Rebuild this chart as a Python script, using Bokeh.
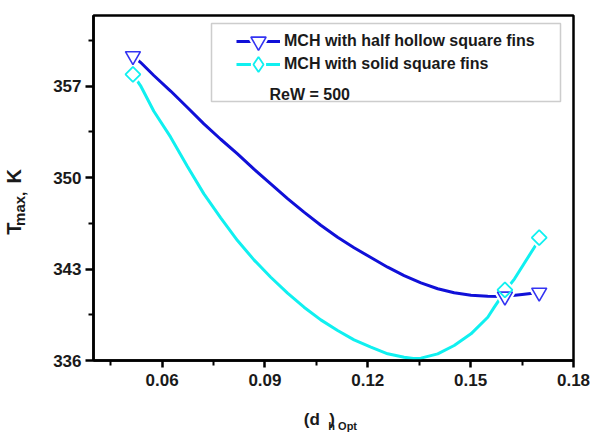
import math
from bokeh.plotting import figure
from bokeh.models import (FixedTicker, Label, Legend, LegendItem, BoxAnnotation,
                          ColumnDataSource, Range1d, LinearAxis)
from bokeh.embed import file_html
from bokeh.resources import INLINE

# ---------------- data ----------------
dh_opt = [0.0515, 0.16, 0.17]
tmax_hollow = [359.3, 340.9, 341.2]
tmax_solid = [357.9, 341.4, 345.4]

# smooth curves drawn through the points
hollow_curve_x = [0.0515, 0.0537, 0.0576, 0.0625, 0.0674, 0.0722, 0.0771, 0.0820,
                  0.0868, 0.0917, 0.0966, 0.1014, 0.1063, 0.1112, 0.1160, 0.1209,
                  0.1258, 0.1306, 0.1355, 0.1404, 0.1452, 0.1501, 0.1550, 0.16,
                  0.165, 0.17]
hollow_curve_y = [359.3, 358.82, 357.81, 356.62, 355.36, 354.11, 352.93, 351.81,
                  350.64, 349.52, 348.39, 347.35, 346.35, 345.43, 344.63, 343.88,
                  343.14, 342.50, 341.94, 341.49, 341.18, 340.99, 340.92, 340.9,
                  341.05, 341.2]
solid_curve_x = [0.0515, 0.0537, 0.0576, 0.0625, 0.0674, 0.0722, 0.0771, 0.0820,
                 0.0868, 0.0917, 0.0966, 0.1014, 0.1063, 0.1112, 0.1160, 0.1209,
                 0.1258, 0.1306, 0.1333, 0.1355, 0.1404, 0.1452, 0.1501, 0.1550,
                 0.1569, 0.1603, 0.1628, 0.1686, 0.1704]
solid_curve_y = [357.9, 357.04, 355.07, 353.09, 350.84, 348.75, 346.92, 345.18,
                 343.70, 342.37, 341.15, 340.08, 339.11, 338.30, 337.58, 337.02,
                 336.51, 336.25, 336.15, 336.18, 336.51, 337.15, 338.04, 339.31,
                 340.08, 341.4, 342.25, 344.67, 345.4]

x_ticks = [0.06, 0.09, 0.12, 0.15, 0.18]
x_tick_labels = ["0.06", "0.09", "0.12", "0.15", "0.18"]
x_minor_ticks = [0.045, 0.075, 0.105, 0.135, 0.165]
y_ticks = [336, 343, 350, 357]
y_tick_labels = ["336", "343", "350", "357"]
y_minor_ticks = [339.5, 346.5, 353.5, 360.5]

series_labels = ["MCH with half hollow square fins", "MCH with solid square fins"]
note_text = "ReW = 500"

NB = "\u00a0"
# axis titles: base text and subscript text (subscripts on their own rows)
x_title_base = "(d" + NB * 2 + ")" + NB * 6
x_title_sub = NB * 6 + "h" + NB + "Opt"
y_title_base = "T" + NB * 7 + "K" + NB * 5
y_title_sub = "max," + NB * 10

# ---------------- style ----------------
FONT = "Liberation Sans"
BLUE = "#1010D8"
BLUE_MK = "#3434F2"
CYAN = "#10F0F0"
TXT = "#1a1a1a"

p = figure(width=590, height=435, output_backend="svg", toolbar_location=None,
           x_range=Range1d(0.04, 0.18), y_range=Range1d(336, 362.4),
           min_border_left=93, min_border_right=17, min_border_top=15,
           min_border_bottom=75)
p.background_fill_color = "white"
p.border_fill_color = "white"
p.grid.visible = False
p.outline_line_color = "black"
p.outline_line_width = 2.5

for ax in (p.xaxis[0], p.yaxis[0]):
    ax.axis_line_width = 2.5
    ax.axis_line_color = "black"
    ax.major_tick_line_width = 2.5
    ax.minor_tick_line_width = 2
    ax.major_tick_in = 0
    ax.minor_tick_in = 0
    ax.major_label_text_font = FONT
    ax.major_label_text_font_style = "bold"
    ax.major_label_text_font_size = "17px"
    ax.major_label_text_color = TXT
    ax.axis_label_text_font = FONT
    ax.axis_label_text_font_style = "bold"
    ax.axis_label_text_color = TXT

p.xaxis.ticker = FixedTicker(ticks=x_ticks, minor_ticks=x_minor_ticks)
p.xaxis.major_label_overrides = dict(zip(x_ticks, x_tick_labels))
p.xaxis.major_tick_out = 7
p.xaxis.minor_tick_out = 5
p.xaxis.major_label_standoff = 6
p.xaxis.axis_label = x_title_base
p.xaxis.axis_label_text_font_size = "17px"
p.xaxis.axis_label_standoff = 21

p.yaxis.ticker = FixedTicker(ticks=y_ticks, minor_ticks=y_minor_ticks)
p.yaxis.major_label_overrides = dict(zip(y_ticks, y_tick_labels))
p.yaxis.major_tick_out = 8
p.yaxis.minor_tick_out = 5
p.yaxis.major_label_standoff = 4
p.yaxis.axis_label = y_title_base
p.yaxis.axis_label_text_font_size = "20px"
p.yaxis.axis_label_standoff = 25


def title_axis(text, size, standoff):
    ax = LinearAxis(ticker=FixedTicker(ticks=[], minor_ticks=[]),
                    axis_label=text, axis_label_standoff=standoff,
                    axis_label_text_font=FONT, axis_label_text_font_style="bold",
                    axis_label_text_font_size=size, axis_label_text_color=TXT,
                    axis_line_color=None, major_tick_line_color=None,
                    minor_tick_line_color=None, major_tick_out=0, minor_tick_out=0,
                    major_tick_in=0, minor_tick_in=0, major_label_standoff=0)
    return ax


p.add_layout(title_axis(x_title_sub, "11px", -12), "below")
p.add_layout(title_axis(y_title_sub, "15px", -27), "left")

# ---------------- curves and markers ----------------
src_h = ColumnDataSource(dict(x=dh_opt, y=tmax_hollow))
src_s = ColumnDataSource(dict(x=dh_opt, y=tmax_solid))

p.line(hollow_curve_x, hollow_curve_y, line_color=BLUE, line_width=3, line_join="round")
p.line(solid_curve_x, solid_curve_y, line_color=CYAN, line_width=3, line_join="round")

# white halos give the gap between line and marker
p.scatter("x", "y", source=src_h, marker="inverted_triangle", size=15,
          fill_color="white", line_color="white", line_width=6)
p.scatter("x", "y", source=src_s, marker="square", angle=math.pi / 4, size=10.6,
          fill_color="white", line_color="white", line_width=6)
p.scatter("x", "y", source=src_h, marker="inverted_triangle", size=15,
          fill_alpha=0, line_color=BLUE_MK, line_width=1.6)
p.scatter("x", "y", source=src_s, marker="square", angle=math.pi / 4, size=10.6,
          fill_alpha=0, line_color=CYAN, line_width=1.8)

# ---------------- legend ----------------
box = BoxAnnotation(left=118, right=467, top=337, bottom=259,
                    left_units="screen", right_units="screen",
                    top_units="screen", bottom_units="screen",
                    fill_color="white", fill_alpha=1.0,
                    line_color="#5a5a5a", line_width=1.5)
p.add_layout(box)

# legend-only renderers (hidden in the plot)
lg_h_line = p.line(dh_opt, tmax_hollow, line_color=BLUE, line_width=3, visible=False)
lg_h_halo = p.scatter(dh_opt, tmax_hollow, marker="inverted_triangle", size=15,
                      fill_color="white", line_color="white", line_width=6, visible=False)
lg_h_mk = p.scatter(dh_opt, tmax_hollow, marker="inverted_triangle", size=15,
                    fill_color="white", line_color=BLUE_MK, line_width=1.6, visible=False)
lg_s_line = p.line(dh_opt, tmax_solid, line_color=CYAN, line_width=3, visible=False)
lg_s_halo = p.scatter(dh_opt, tmax_solid, marker="diamond", size=15,
                      fill_color="white", line_color="white", line_width=6, visible=False)
lg_s_mk = p.scatter(dh_opt, tmax_solid, marker="diamond", size=15,
                    fill_color="white", line_color=CYAN, line_width=1.8, visible=False)


def make_legend(label, rends, loc):
    return Legend(items=[LegendItem(label=label, renderers=rends)], location=loc,
                  glyph_width=44, glyph_height=38, label_height=20, spacing=0,
                  label_standoff=4, padding=0, margin=0,
                  border_line_alpha=0, background_fill_alpha=0,
                  label_text_font=FONT, label_text_font_style="bold",
                  label_text_font_size="16px", label_text_color=TXT)


p.add_layout(make_legend(series_labels[0], [lg_h_line, lg_h_halo, lg_h_mk], (143, 300.5)), "center")
p.add_layout(make_legend(series_labels[1], [lg_s_line, lg_s_halo, lg_s_mk], (143, 277)), "center")

p.add_layout(Label(x=176, y=266.5, x_units="screen", y_units="screen", text=note_text,
                   text_font=FONT, text_font_style="bold", text_font_size="16px",
                   text_color=TXT, text_align="left", text_baseline="alphabetic"))

open("out.html", "w").write(file_html(p, INLINE))
